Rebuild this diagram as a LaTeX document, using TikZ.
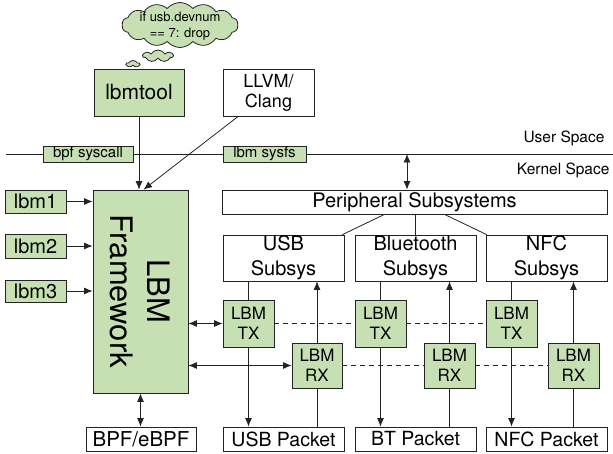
\documentclass[tikz,border=0pt]{standalone}
\usepackage{fontspec}
\setmainfont{TeX Gyre Heros}
\usetikzlibrary{shapes.symbols,arrows.meta,calc}
\definecolor{lgreen}{RGB}{198,224,180}
\definecolor{edgec}{RGB}{35,35,35}
\newcommand\fsz[2]{\fontsize{#1}{#2}\selectfont}
\newcommand\bx[7]{\node[#2, minimum width={(#5-#3)*1pt}, minimum height={(#6-#4)*1pt}] (#1) at ({(#3+#5)/2},{(#4+#6)/2}) {#7};}
\tikzset{
  box/.style={draw=edgec, line width=0.8pt, inner sep=0pt, align=center, text=black, font=\fsz{20}{25}},
  gbox/.style={box, fill=lgreen},
  wbox/.style={box, fill=white},
  small/.style={font=\fsz{15}{18}},
  lbmbox/.style={gbox, font=\fsz{17}{19.5}},
  conn/.style={draw=edgec, line width=0.8pt},
  arr/.style={conn, -{Latex[length=8.5pt,width=7pt]}},
  darr/.style={conn, {Latex[length=8.5pt,width=7pt]}-{Latex[length=8.5pt,width=7pt]}},
  dline/.style={conn, dash pattern=on 5pt off 4pt},
  thought/.style={cloud, draw=edgec, line width=0.8pt, fill=lgreen, inner sep=0pt, align=center},
}
\begin{document}
\begin{tikzpicture}[x=1pt,y=-1pt]
\useasboundingbox (0,0) rectangle (613,454);
% user/kernel divider
\coordinate (lineL) at (6,154);
\coordinate (lineR) at (613,154);
\draw[conn] (lineL) -- (lineR);
\node[anchor=east, font=\fsz{15.5}{18}] (us) at (608,138) {User Space};
\node[anchor=east, font=\fsz{15.5}{18}] (ks) at (613,170) {Kernel Space};

% thought clouds
\node[thought, cloud puffs=14, cloud puff arc=100, aspect=2.6, minimum width=116pt, minimum height=45pt] (thought) at (180,25) {};
\node[align=center, font=\fsz{13}{15.5}, inner sep=0pt] (thoughttext) at (180,26) {if usb.devnum\\== 7: drop};
\node[thought, cloud puffs=7, cloud puff arc=120, aspect=2.5, minimum width=30pt, minimum height=12pt] (t2) at (158,56) {};
\node[thought, cloud puffs=5, cloud puff arc=120, aspect=1.9, minimum width=13pt, minimum height=7pt] (t3) at (133,64) {};

% top boxes
\bx{lbmtool}{gbox, font=\fsz{21}{25}}{94}{69}{184}{116}{lbmtool}
\bx{llvm}{wbox, font=\fsz{18}{20}}{223}{69}{314}{116}{LLVM/\\Clang}
\bx{bpfsys}{gbox, small}{43}{146}{133}{162}{bpf syscall}
\bx{lbmsysfs}{gbox, small}{223}{146}{306}{162}{lbm sysfs}

% left column
\bx{lbmA}{gbox}{5}{190}{66}{213}{lbm1}
\bx{lbmB}{gbox}{5}{234}{66}{258}{lbm2}
\bx{lbmC}{gbox}{5}{280}{66}{302}{lbm3}
\bx{fw}{gbox}{93}{190}{188}{393}{}
\node[rotate=-90, align=center, font=\fsz{31}{37}, inner sep=0pt] (fwlabel) at (fw.center) {LBM\\Framework};

% peripheral
\bx{periph}{wbox}{222}{190}{607}{214}{Peripheral Subsystems}
\bx{usb}{wbox}{223}{235}{344}{281}{USB\\Subsys}
\bx{bt}{wbox}{355}{235}{476}{281}{Bluetooth\\Subsys}
\bx{nfc}{wbox}{486}{235}{607}{281}{NFC\\Subsys}

% TX / RX
\bx{usbtx}{lbmbox}{223}{300}{274}{347}{LBM\\TX}
\bx{bttx}{lbmbox}{355}{300}{406}{347}{LBM\\TX}
\bx{nfctx}{lbmbox}{486}{300}{537}{347}{LBM\\TX}
\bx{usbrx}{lbmbox}{292}{343}{342}{388}{LBM\\RX}
\bx{btrx}{lbmbox}{424}{343}{475}{388}{LBM\\RX}
\bx{nfcrx}{lbmbox}{548}{343}{599}{388}{LBM\\RX}

% packets
\bx{bpf}{wbox, font=\fsz{20.5}{24}}{86}{427}{196}{451}{BPF/eBPF}
\bx{usbp}{wbox, font=\fsz{19.5}{24}}{223}{427}{344}{451}{USB Packet}
\bx{btp}{wbox, font=\fsz{19.5}{24}}{355}{427}{476}{451}{BT Packet}
\bx{nfcp}{wbox, font=\fsz{19.5}{24}}{486}{427}{607}{451}{NFC Packet}

% connectors top
\draw[arr] (lbmtool.south) -- (lbmtool.south |- fw.north);
\draw[arr] ($(llvm.south west)!0.17!(llvm.south east)$) -- ($(fw.north)+(3,0)$);
\draw[arr] (lbmA.east) -- (lbmA.east -| fw.west);
\draw[arr] (lbmB.east) -- (lbmB.east -| fw.west);
\draw[arr] (lbmC.east) -- (lbmC.east -| fw.west);
\draw[darr] (fw.south) -- (fw.south |- bpf.north);
\draw[darr] (usbtx.west -| fw.east) -- (usbtx.west);
\draw[darr] (usbrx.west -| fw.east) -- (usbrx.west);
\coordinate (ukarrow) at (407,154);
\draw[darr] (ukarrow) -- (ukarrow |- periph.north);

% peripheral to subsystems
\draw[conn] ($(periph.south)+(-30,0)$) -- ($(usb.north east)+(-2,0)$);
\draw[conn] (bt.north |- periph.south) -- (bt.north);
\draw[conn] ($(periph.south)+(30,0)$) -- ($(nfc.north west)+(1,0)$);

% TX/RX paths
\foreach \s/\t/\r/\p in {usb/usbtx/usbrx/usbp, bt/bttx/btrx/btp, nfc/nfctx/nfcrx/nfcp}{
  \draw[conn] (\t.north |- \s.south) -- (\t.north);
  \draw[arr] (\t.south) -- (\t.south |- \p.north);
  \draw[conn] (\r.south |- \p.north) -- (\r.south);
  \draw[arr] (\r.north) -- (\r.north |- \s.south);
}
\draw[dline] (usbtx.east) -- (bttx.west);
\draw[dline] (bttx.east) -- (nfctx.west);
\draw[dline] (usbrx.east) -- (btrx.west);
\draw[dline] (btrx.east) -- (nfcrx.west);
\end{tikzpicture}
\end{document}
